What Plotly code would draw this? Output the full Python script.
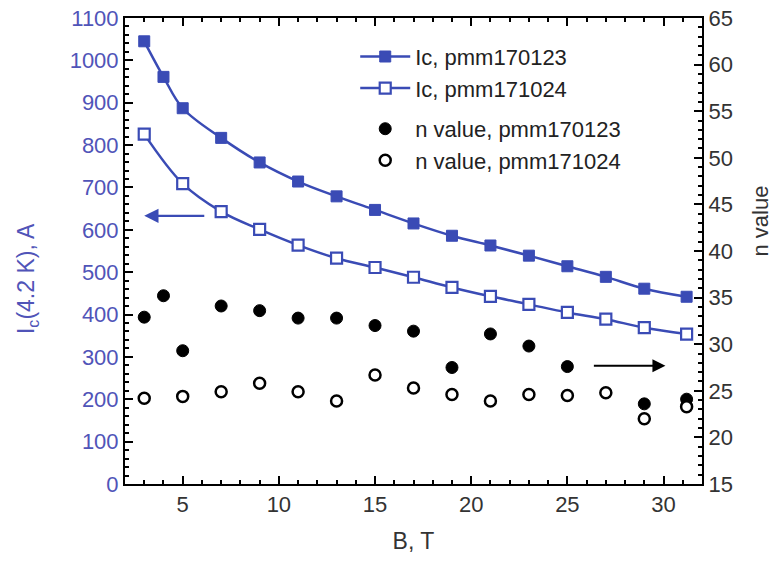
import plotly.graph_objects as go

# Data
B_ic1 = [3, 4, 5, 7, 9, 11, 13, 15, 17, 19, 21, 23, 25, 27, 29, 31.2]
Ic_1 = [1045, 961, 887, 817, 759, 714, 679, 647, 615, 586, 563, 539, 514, 489, 461, 442]

B_ic2 = [3, 5, 7, 9, 11, 13, 15, 17, 19, 21, 23, 25, 27, 29, 31.2]
Ic_2 = [826, 709, 643, 601, 564, 533, 511, 488, 464, 443, 424, 405, 389, 369, 354]

B_n1 = [3, 4, 5, 7, 9, 11, 13, 15, 17, 19, 21, 23, 25, 29, 31.2]
n_1 = [32.9, 35.2, 29.3, 34.1, 33.6, 32.8, 32.8, 32.0, 31.4, 27.5, 31.1, 29.8, 27.6, 23.6, 24.1]

B_n2 = [3, 5, 7, 9, 11, 13, 15, 17, 19, 21, 23, 25, 27, 29, 31.2]
n_2 = [24.2, 24.4, 24.9, 25.8, 24.9, 23.9, 26.7, 25.3, 24.6, 23.9, 24.6, 24.5, 24.8, 22.0, 23.3]

BLUE = "#3a4bb5"
BLUE_TXT = "#5054b8"
FONT = "Arial, Liberation Sans, sans-serif"

fig = go.Figure()

fig.add_trace(go.Scatter(
    x=B_ic1, y=Ic_1, mode="lines+markers", name="Ic, pmm170123",
    line=dict(color=BLUE, width=2.5, shape="spline"),
    marker=dict(symbol="square", size=11, color=BLUE, line=dict(color=BLUE, width=1)),
    legendgroup="ic", yaxis="y"))
fig.add_trace(go.Scatter(
    x=B_ic2, y=Ic_2, mode="lines+markers", name="Ic, pmm171024",
    line=dict(color=BLUE, width=2.5, shape="spline"),
    marker=dict(symbol="square", size=11, color="white", line=dict(color=BLUE, width=2.2)),
    legendgroup="ic", yaxis="y"))
fig.add_trace(go.Scatter(
    x=B_n1, y=n_1, mode="markers", name="n value, pmm170123",
    marker=dict(symbol="circle", size=12, color="black", line=dict(color="black", width=1)),
    legendgroup="n", yaxis="y2"))
fig.add_trace(go.Scatter(
    x=B_n2, y=n_2, mode="markers", name="n value, pmm171024",
    marker=dict(symbol="circle", size=11, color="white", line=dict(color="black", width=2.5)),
    legendgroup="n", yaxis="y2"))

# arrows
fig.add_annotation(x=3.0, y=633, ax=6.2, ay=633, xref="x", yref="y", axref="x", ayref="y",
                   showarrow=True, arrowhead=2, arrowsize=1.3, arrowwidth=2.2, arrowcolor=BLUE, text="")
fig.add_annotation(x=30.1, y=27.7, ax=26.3, ay=27.7, xref="x", yref="y2", axref="x", ayref="y2",
                   showarrow=True, arrowhead=2, arrowsize=1.3, arrowwidth=2, arrowcolor="black", text="")

# axis titles placed as annotations (positions match reference)
fig.add_annotation(x=-0.168, y=0.44, xref="paper", yref="paper", text="I<sub>c</sub>(4.2 K), A",
                   textangle=-90, showarrow=False, xanchor="center", yanchor="middle",
                   font=dict(size=23, color=BLUE_TXT))
fig.add_annotation(x=1.102, y=0.565, xref="paper", yref="paper", text="n value",
                   textangle=-90, showarrow=False, xanchor="center", yanchor="middle",
                   font=dict(size=22, color="#333"))

fig.update_layout(
    width=776, height=567,
    margin=dict(l=125, r=74, t=18, b=83),
    paper_bgcolor="white", plot_bgcolor="white",
    font=dict(family=FONT, size=20, color="#222"),
    showlegend=True,
    legend=dict(x=0.399, y=0.962, xanchor="left", yanchor="top",
                font=dict(size=22, color="#222"), bgcolor="rgba(0,0,0,0)",
                tracegroupgap=9, itemwidth=50),
    xaxis=dict(range=[2, 32], dtick=5, tick0=0, showline=True, linecolor="black", linewidth=2,
               mirror="ticks", ticks="inside", ticklen=8, tickwidth=2, tickcolor="black",
               minor=dict(dtick=1, ticks="inside", ticklen=4, tickwidth=1.5, tickcolor="black"),
               showgrid=False, zeroline=False, automargin=False,
               tickfont=dict(size=22, color="#333"),
               title=dict(text="B, T", font=dict(size=23, color="#333"), standoff=16)),
    yaxis=dict(range=[0, 1100], dtick=100, showline=True, linecolor="black", linewidth=2,
               ticks="inside", ticklen=8, tickwidth=2, tickcolor="black",
               minor=dict(dtick=20, ticks="inside", ticklen=4, tickwidth=1.5, tickcolor="black"),
               showgrid=False, zeroline=False, automargin=False,
               tickfont=dict(size=22, color=BLUE_TXT)),
    yaxis2=dict(range=[15, 65], dtick=5, overlaying="y", side="right", showline=True,
                linecolor="black", linewidth=2,
                ticks="inside", ticklen=8, tickwidth=2, tickcolor="black",
                minor=dict(dtick=1, ticks="inside", ticklen=4, tickwidth=1.5, tickcolor="black"),
                showgrid=False, zeroline=False, automargin=False,
                tickfont=dict(size=22, color="#333")),
)

fig.write_html("out.html", config={"displayModeBar": False},
               post_script="document.body.style.margin='0px';")
